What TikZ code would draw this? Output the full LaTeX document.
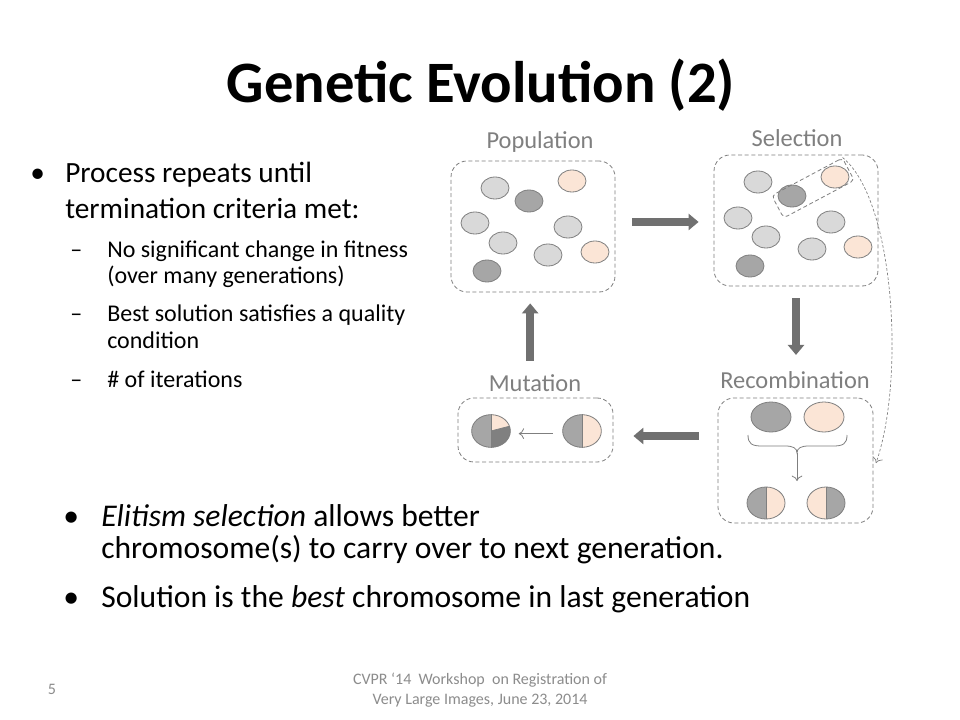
\documentclass[tikz,border=0pt]{standalone}
\usepackage{fontspec}
\setmainfont{Carlito}
\usetikzlibrary{arrows.meta,shapes.geometric,calc}
\definecolor{lg}{HTML}{D9D9D9}
\definecolor{dg}{HTML}{A6A6A6}
\definecolor{dk}{HTML}{808080}
\definecolor{pc}{HTML}{FBE5D6}
\definecolor{ol}{HTML}{7F7F7F}
\definecolor{ar}{HTML}{707070}
\definecolor{lab}{HTML}{7F7F7F}
\definecolor{ft}{HTML}{8C8C8C}
\begin{document}
\begin{tikzpicture}[x=0.75pt,y=-0.75pt,
  txt/.style={anchor=base west, inner sep=0, font=\fontsize{22}{26}\selectfont},
  subt/.style={anchor=base west, inner sep=0, font=\fontsize{18}{22}\selectfont},
  bot/.style={anchor=base west, inner sep=0, font=\fontsize{23.7}{28}\selectfont},
  lbl/.style={inner sep=0, text=lab, font=\fontsize{18.3}{22}\selectfont},
  foot/.style={inner sep=0, text=ft, font=\fontsize{12}{14}\selectfont},
  box/.style={draw=ol, dashed, dash pattern=on 3pt off 2pt, line width=0.6pt, rounded corners=12pt, inner sep=0},
  blob/.style={ellipse, draw=ol, line width=0.6pt, inner sep=0, minimum width=21pt, minimum height=16.5pt},
  lc/.style={blob, fill=lg},
  dc/.style={blob, fill=dg},
  pcc/.style={blob, fill=pc},
  big/.style={ellipse, draw=ol, line width=0.6pt, inner sep=0, minimum width=29pt, minimum height=24.5pt},
  fat/.style={draw=ar, line width=6pt, -{Triangle[length=7.5pt,width=12pt]}},
  thin/.style={draw=ol, line width=0.6pt, -{To[length=4pt,width=8pt]}}
]
\useasboundingbox[fill=white] (0,0) rectangle (960,720);

% title
\node[anchor=base, inner sep=0, font=\fontsize{44}{52}\selectfont\bfseries] (title) at (481,103) {Genetic Evolution (2)};

% left text
\node[txt] (b1) at (30,183) {•};
\node[txt] (t1) at (65,183) {Process repeats until};
\node[txt] (t2) at (65,219) {termination criteria met:};
\node[subt] (d1) at (70,258) {–};
\node[subt] (s1) at (107,258) {No significant change in fitness};
\node[subt] (s2) at (107,284) {(over many generations)};
\node[subt] (d2) at (70,321) {–};
\node[subt] (s3) at (107,321) {Best solution satisfies a quality};
\node[subt] (s4) at (107,348) {condition};
\node[subt] (d3) at (70,387) {–};
\node[subt] (s5) at (107,387) {\# of iterations};

% bottom text
\node[bot] (b2) at (63,526) {•};
\node[bot] (e1) at (101,526) {\textit{Elitism selection} allows better};
\node[bot] (e2) at (101,558) {chromosome(s) to carry over to next generation.};
\node[bot] (b3) at (63,607) {•};
\node[bot] (e3) at (101,607) {Solution is the \textit{best} chromosome in last generation};

% footer
\node[foot, anchor=base] (f1) at (480,684) {CVPR ‘14~ Workshop~ on Registration of};
\node[foot, anchor=base] (f2) at (480,704) {Very Large Images, June 23, 2014};
\node[foot, anchor=base] (pg) at (52,694) {5};

% labels
\node[lbl] (lpop) at (540,142) {Population};
\node[lbl] (lsel) at (797,138) {Selection};
\node[lbl] (lmut) at (535,383) {Mutation};
\node[lbl] (lrec) at (795,380) {Recombination};

% boxes
\node[box, minimum width=123pt, minimum height=98.25pt] (pop) at (533,226.5) {};
\node[box, minimum width=123pt, minimum height=98.25pt] (sel) at (796,220.5) {};
\node[box, minimum width=116.25pt, minimum height=48pt] (mut) at (535.5,430) {};
\node[box, minimum width=116.25pt, minimum height=93.75pt] (rec) at (795.5,460.5) {};

% population circles
\node[lc] (p1) at (495,188) {};
\node[pcc] (p2) at (572,181) {};
\node[dc] (p3) at (529,201) {};
\node[lc] (p4) at (475,223) {};
\node[lc] (p5) at (568,227) {};
\node[lc] (p6) at (503,243) {};
\node[lc] (p7) at (548,255) {};
\node[pcc] (p8) at (595,252) {};
\node[dc] (p9) at (487,271) {};

% selection circles
\node[lc] (q1) at (758,182) {};
\node[pcc] (q2) at (835,177) {};
\node[dc] (q3) at (792,196) {};
\node[lc] (q4) at (738,218) {};
\node[lc] (q5) at (831,222) {};
\node[lc] (q6) at (766,237) {};
\node[lc] (q7) at (812,249) {};
\node[pcc] (q8) at (858,247) {};
\node[dc] (q9) at (750,266) {};
\node[box, rounded corners=3pt, rotate=28, minimum width=60pt, minimum height=19pt] (elite) at (813,188) {};

% mutation
\fill[dg] (491,431) -- (491,414.5) arc[start angle=-90, end angle=-270, x radius=19.5, y radius=16.5] -- cycle;
\fill[pc] (491,431) -- (491,414.5) arc[start angle=-90, end angle=-17, x radius=19.5, y radius=16.5] -- cycle;
\fill[dk] (491,431) -- ++(-17:19.5 and 16.5) arc[start angle=-17, end angle=90, x radius=19.5, y radius=16.5] -- cycle;
\node[big] (m1) at (491,431) {};
\draw[ol, line width=0.6pt] (m1.center) -- (m1.north);
\draw[ol, line width=0.6pt] (m1.center) -- (m1.south);
\draw[ol, line width=0.6pt] (m1.center) -- ++(-17:19.5 and 16.5);
\fill[dg] (582,414.5) arc[start angle=-90, end angle=-270, x radius=19.5, y radius=16.5] -- cycle;
\fill[pc] (582,414.5) arc[start angle=-90, end angle=90, x radius=19.5, y radius=16.5] -- cycle;
\node[big] (m2) at (582,431) {};
\draw[ol, line width=0.6pt] (m2.north) -- (m2.south);
\draw[thin, shorten <=7pt, shorten >=6pt] ([yshift=-2pt]m2.west) -- ([yshift=-2pt]m1.east);

% recombination
\node[big, fill=dg, minimum width=30pt, minimum height=22.5pt] (r1) at (771,417) {};
\node[big, fill=pc, minimum width=30pt, minimum height=22.5pt] (r2) at (824,417) {};
\fill[dg] (766,487) arc[start angle=-90, end angle=-270, x radius=19, y radius=16] -- cycle;
\fill[pc] (766,487) arc[start angle=-90, end angle=90, x radius=19, y radius=16] -- cycle;
\node[big, minimum width=28.5pt, minimum height=24pt] (r3) at (766,503) {};
\draw[ol, line width=0.6pt] (r3.north) -- (r3.south);
\fill[pc] (826,487) arc[start angle=-90, end angle=-270, x radius=19, y radius=16] -- cycle;
\fill[dg] (826,487) arc[start angle=-90, end angle=90, x radius=19, y radius=16] -- cycle;
\node[big, minimum width=28.5pt, minimum height=24pt] (r4) at (826,503) {};
\draw[ol, line width=0.6pt] (r4.north) -- (r4.south);
\draw[ol, line width=0.6pt] (748,435) .. controls (748,444) and (752,446) .. (762,446) -- (785,446) .. controls (793,446) and (797,448) .. (797,453) coordinate (tip) .. controls (797,448) and (801,446) .. (809,446) -- (833,446) .. controls (843,446) and (847,444) .. (847,435);
\coordinate (tipend) at (797,481);
\draw[thin] (tip) -- (tipend);

% process arrows
\coordinate (pr) at ([yshift=3.4pt]pop.east);
\draw[fat, shorten <=12.75pt, shorten >=11.25pt] (pr) -- (pr -| sel.west);
\draw[fat, shorten <=9pt, shorten >=32pt] (sel.south) -- (sel.south |- rec.north);
\coordinate (ml) at ([yshift=-4.5pt]mut.east);
\draw[fat, shorten <=14.25pt, shorten >=15pt] (ml -| rec.west) -- (ml);
\draw[fat, shorten <=27.75pt, shorten >=8.25pt] ([xshift=-4pt]mut.north) -- ([xshift=-4pt]mut.north |- pop.south);

% elitism arrow
\coordinate (eltgt) at (876,463);
\draw[ol, line width=0.5pt, dash pattern=on 2pt off 1.5pt, -{To[length=4pt,width=8pt]}] (elite.north east) .. controls (895,200) and (905,380) .. (eltgt);
\end{tikzpicture}
\end{document}
